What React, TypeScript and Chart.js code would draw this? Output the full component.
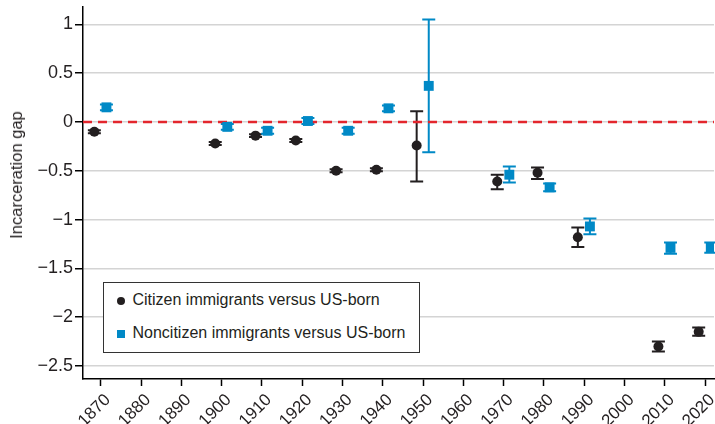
import React, { useEffect, useRef } from "react";
import { Chart, registerables } from "chart.js";

Chart.register(...registerables);

// ---- Data ----
const decades = [1870, 1900, 1910, 1920, 1930, 1940, 1950, 1970, 1980, 1990, 2010, 2020];

const citizenGap = [-0.10, -0.22, -0.14, -0.19, -0.50, -0.49, -0.24, -0.61, -0.52, -1.18, -2.30, -2.15];
const citizenLow = [-0.115, -0.235, -0.155, -0.205, -0.515, -0.505, -0.61, -0.69, -0.585, -1.28, -2.35, -2.19];
const citizenHigh = [-0.085, -0.205, -0.125, -0.175, -0.485, -0.475, 0.11, -0.54, -0.465, -1.08, -2.25, -2.105];

const noncitizenGap = [0.15, -0.05, -0.09, 0.01, -0.09, 0.14, 0.37, -0.54, -0.67, -1.07, -1.29, -1.285];
const noncitizenLow = [0.12, -0.08, -0.12, -0.02, -0.12, 0.11, -0.31, -0.62, -0.71, -1.15, -1.35, -1.34];
const noncitizenHigh = [0.18, -0.02, -0.06, 0.04, -0.06, 0.17, 1.05, -0.455, -0.63, -0.99, -1.235, -1.235];

const xTicks = [1870, 1880, 1890, 1900, 1910, 1920, 1930, 1940, 1950, 1960, 1970, 1980, 1990, 2000, 2010, 2020];
const yTicks = [-2.5, -2, -1.5, -1, -0.5, 0, 0.5, 1];

const citizenLabel = "Citizen immigrants versus US-born";
const noncitizenLabel = "Noncitizen immigrants versus US-born";
const yTitle = "Incarceration gap";

const X_MIN = 1865.58;
const X_MAX = 2022.2;
const Y_MIN = -2.633;
const Y_MAX = 1.178;
const CIT_OFFSET = -1.6;
const NON_OFFSET = 1.4;

const BLACK = "#231f20";
const BLUE = "#0089c6";
const RED = "#e3262d";
const FONT = "'Liberation Sans', Arial, Helvetica, sans-serif";

const errorBarPlugin = {
  id: "errorBars",
  beforeDatasetsDraw(chart: any) {
    const { ctx, scales } = chart;
    const xs = scales.x;
    const ys = scales.y;
    const drawSet = (off: number, lo: number[], hi: number[], color: string) => {
      ctx.save();
      ctx.strokeStyle = color;
      ctx.lineWidth = 2;
      decades.forEach((d, i) => {
        const px = xs.getPixelForValue(d + off);
        const pLo = ys.getPixelForValue(lo[i]);
        const pHi = ys.getPixelForValue(hi[i]);
        const cap = 6.5;
        ctx.beginPath();
        ctx.moveTo(px, pLo);
        ctx.lineTo(px, pHi);
        ctx.moveTo(px - cap, pLo);
        ctx.lineTo(px + cap, pLo);
        ctx.moveTo(px - cap, pHi);
        ctx.lineTo(px + cap, pHi);
        ctx.stroke();
      });
      ctx.restore();
    };
    drawSet(CIT_OFFSET, citizenLow, citizenHigh, BLACK);
    drawSet(NON_OFFSET, noncitizenLow, noncitizenHigh, BLUE);
  },
};

export default function App() {
  const canvasRef = useRef<HTMLCanvasElement | null>(null);

  useEffect(() => {
    if (!canvasRef.current) return;
    const chart = new Chart(canvasRef.current, {
      type: "scatter",
      data: {
        datasets: [
          {
            type: "line",
            label: "zero",
            data: [
              { x: X_MIN, y: 0 },
              { x: X_MAX, y: 0 },
            ],
            borderColor: RED,
            borderWidth: 2.5,
            borderDash: [9, 6],
            pointRadius: 0,
            pointHoverRadius: 0,
            fill: false,
            order: 3,
          } as any,
          {
            label: citizenLabel,
            data: decades.map((d, i) => ({ x: d + CIT_OFFSET, y: citizenGap[i] })),
            pointStyle: "circle",
            pointRadius: 5,
            backgroundColor: BLACK,
            borderColor: BLACK,
            borderWidth: 0,
            order: 1,
          },
          {
            label: noncitizenLabel,
            data: decades.map((d, i) => ({ x: d + NON_OFFSET, y: noncitizenGap[i] })),
            pointStyle: "rect",
            pointRadius: 7,
            backgroundColor: BLUE,
            borderColor: BLUE,
            borderWidth: 0,
            order: 2,
          },
        ],
      },
      options: {
        animation: false,
        responsive: true,
        maintainAspectRatio: false,
        layout: { autoPadding: false, padding: { top: 7, right: 1, left: 0, bottom: 0 } },
        plugins: {
          legend: { display: false },
          tooltip: { enabled: false },
        },
        scales: {
          x: {
            type: "linear",
            min: X_MIN,
            max: X_MAX,
            afterBuildTicks: (scale: any) => {
              scale.ticks = xTicks.map((v) => ({ value: v }));
            },
            afterFit: (scale: any) => {
              scale.height = 45;
              scale.paddingLeft = 0;
              scale.paddingRight = 0;
            },
            ticks: {
              minRotation: 45,
              maxRotation: 45,
              color: BLACK,
              font: { family: FONT, size: 17 },
              padding: 4,
              labelOffset: 7,
              callback: (v: any) => String(v),
            },
            grid: {
              drawOnChartArea: false,
              tickColor: "#000",
              tickLength: 7,
              tickWidth: 1.5,
            },
            border: { color: "#000", width: 1.5 },
          },
          y: {
            type: "linear",
            min: Y_MIN,
            max: Y_MAX,
            afterBuildTicks: (scale: any) => {
              scale.ticks = yTicks.map((v) => ({ value: v }));
            },
            afterFit: (scale: any) => {
              scale.width = 83;
              scale.paddingTop = 0;
              scale.paddingBottom = 0;
            },
            ticks: {
              color: BLACK,
              font: { family: FONT, size: 18 },
              padding: 2,
              callback: (v: any) => (v < 0 ? "\u2212" + String(Math.abs(v)) : String(v)),
            },
            grid: {
              color: "#d4d4d4",
              lineWidth: 1.5,
              tickColor: "#000",
              tickLength: 8,
              tickWidth: 1.5,
            },
            border: { color: "#000", width: 1.5 },
          },
        },
      },
      plugins: [errorBarPlugin],
    });
    return () => chart.destroy();
  }, []);

  return (
    <div
      style={{
        position: "fixed",
        left: 0,
        top: 0,
        width: 715,
        height: 424,
        background: "#fff",
        fontFamily: FONT,
        color: BLACK,
      }}
    >
      <canvas ref={canvasRef} />
      <div
        style={{
          position: "absolute",
          left: 16,
          top: 175,
          transform: "translate(-50%, -50%) rotate(-90deg)",
          whiteSpace: "nowrap",
          fontSize: 16.5,
          lineHeight: "18px",
        }}
      >
        {yTitle}
      </div>
      <div
        style={{
          position: "absolute",
          left: 103,
          top: 282,
          width: 317,
          height: 71,
          boxSizing: "border-box",
          border: "1.5px solid #333",
          background: "#fff",
          fontSize: 16,
        }}
      >
        <div style={{ position: "absolute", left: 13, top: 13.5, width: 8, height: 8, borderRadius: "50%", background: BLACK }} />
        <div style={{ position: "absolute", left: 28.5, top: 8, lineHeight: "18px", whiteSpace: "nowrap" }}>{citizenLabel}</div>
        <div style={{ position: "absolute", left: 13, top: 46.5, width: 8, height: 8, background: BLUE }} />
        <div style={{ position: "absolute", left: 28.5, top: 41, lineHeight: "18px", whiteSpace: "nowrap" }}>{noncitizenLabel}</div>
      </div>
    </div>
  );
}
